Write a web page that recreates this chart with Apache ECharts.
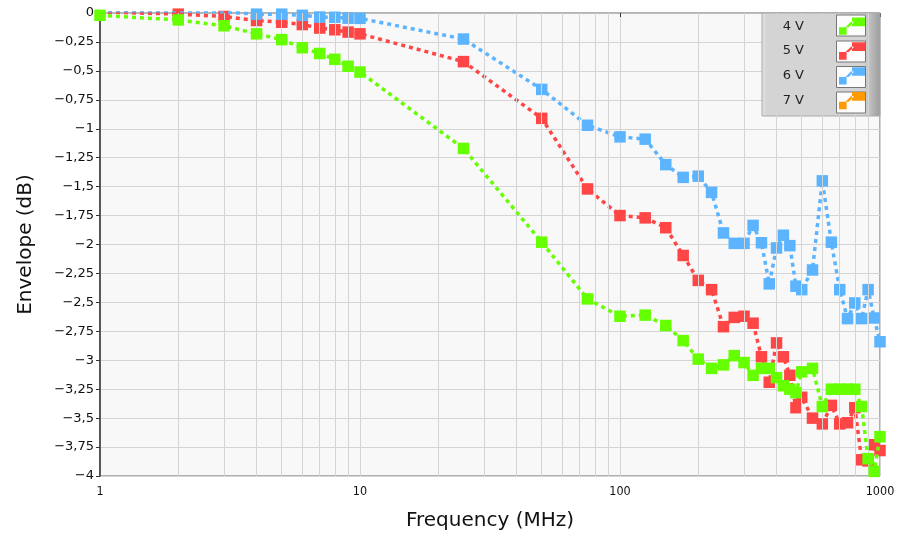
<!DOCTYPE html>
<html>
<head>
<meta charset="utf-8">
<script src="https://cdn.jsdelivr.net/npm/echarts@6/dist/echarts.min.js"></script>
<style>html,body{margin:0;padding:0;background:#fff}#c{width:900px;height:538px}</style>
</head>
<body>
<div id="c"></div>
<script>
const freqs = [1,2,3,4,5,6,7,8,9,10,25,50,75,100,125,150,175,200,225,250,275,300,325,350,375,400,425,450,475,500,550,600,650,700,750,800,850,900,950,1000];
const v4 = [-0.02,-0.06,-0.11,-0.18,-0.23,-0.30,-0.35,-0.40,-0.46,-0.51,-1.17,-1.98,-2.47,-2.62,-2.61,-2.70,-2.83,-2.99,-3.07,-3.04,-2.96,-3.02,-3.13,-3.07,-3.07,-3.15,-3.22,-3.25,-3.28,-3.10,-3.07,-3.40,-3.25,-3.25,-3.25,-3.25,-3.40,-3.85,-3.96,-3.66];
const v5 = [0.01,-0.01,-0.03,-0.065,-0.08,-0.10,-0.13,-0.145,-0.165,-0.18,-0.42,-0.91,-1.52,-1.75,-1.77,-1.855,-2.095,-2.31,-2.39,-2.71,-2.63,-2.62,-2.68,-2.97,-3.19,-2.85,-2.97,-3.13,-3.41,-3.32,-3.50,-3.55,-3.39,-3.55,-3.54,-3.41,-3.86,-3.87,-3.73,-3.78];
const v6 = [0.02,0.02,0.01,-0.01,-0.01,-0.02,-0.035,-0.037,-0.045,-0.046,-0.225,-0.66,-0.97,-1.07,-1.09,-1.31,-1.42,-1.41,-1.55,-1.90,-1.99,-1.99,-1.835,-1.985,-2.34,-2.03,-1.92,-2.01,-2.36,-2.39,-2.22,-1.45,-1.98,-2.39,-2.64,-2.505,-2.64,-2.39,-2.635,-2.84];
const v7 = [];
const seriesNames = ['4 V','5 V','6 V','7 V'];
const xTickLabels = {1: '1', 10: '10', 100: '100', 1000: '1000'};
const minorTicks = [2,3,4,5,6,7,8,9,20,30,40,50,60,70,80,90,200,300,400,500,600,700,800,900];

const colors = ['#66ff00','#ff4646','#5cb4ff','#ff9a00'];
const pairs = (ys) => ys.map((y, i) => [freqs[i], y]);
const fmtY = (v) => v === 0 ? '0' : '\u2212' + String(Math.abs(v)).replace('.', ',');
const fmtX = (v) => xTickLabels[Math.round(v)] || String(Math.round(v));
const iconPath = 'path://M0,9H7V16H0Z M6,9L9,9L14,4L11,4Z M12,0H24V8H12Z';

const chart = echarts.init(document.getElementById('c'), null, {renderer: 'canvas'});
const mk = (name, ys, color, z) => ({
  name: name, type: 'line', data: pairs(ys), z: z,
  symbol: 'rect', symbolSize: 11.5,
  itemStyle: {color: color},
  lineStyle: {color: color, width: 3.5, type: [4, 4]},
  clip: true
});
const boxY = [15, 41, 66.5, 92];
const graphics = [
  {type: 'rect', shape: {x: 762, y: 13, width: 118, height: 103}, style: {fill: new echarts.graphic.LinearGradient(0,0,1,0,[{offset:0,color:'#e2e2e2'},{offset:0.05,color:'#d4d4d4'},{offset:0.86,color:'#d4d4d4'},{offset:1,color:'#9a9a9a'}]), stroke: '#aaa', lineWidth: 1}, z: 5, silent: true}
].concat(boxY.map(y => ({type: 'rect', shape: {x: 836.5, y: y, width: 29, height: 21}, style: {fill: '#fcfcfc', stroke: '#777', lineWidth: 1}, z: 6, silent: true})));

chart.setOption({
  animation: false,
  backgroundColor: '#fff',
  grid: {left: 100, right: 20, top: 13, bottom: 62, show: true, backgroundColor: '#f8f8f8', borderColor: '#666', borderWidth: 1},
  xAxis: {
    type: 'log', logBase: 10, min: 1, max: 1000,
    name: 'Frequency (MHz)', nameLocation: 'middle', nameGap: 35,
    nameTextStyle: {fontFamily: 'DejaVu Sans', fontSize: 20, color: '#111'},
    axisLine: {show: true, lineStyle: {color: '#bbb'}},
    axisTick: {show: true, length: 4, lineStyle: {color: '#333'}},
    axisLabel: {fontFamily: 'DejaVu Sans Condensed, Liberation Sans Narrow, sans-serif', fontSize: 12.5, color: '#111', margin: 9, formatter: fmtX},
    splitLine: {show: true, lineStyle: {color: '#d4d4d4', width: 1}}
  },
  yAxis: {
    type: 'value', min: -4, max: 0, interval: 0.25,
    name: 'Envelope (dB)', nameLocation: 'middle', nameGap: 64,
    nameTextStyle: {fontFamily: 'DejaVu Sans', fontSize: 20, color: '#111'},
    axisLine: {show: true, lineStyle: {color: '#333', width: 1.5}},
    axisTick: {show: true, length: 4, lineStyle: {color: '#333'}},
    axisLabel: {fontFamily: 'DejaVu Sans', fontSize: 13, color: '#111', margin: 6, formatter: fmtY},
    splitLine: {show: true, lineStyle: {color: '#d4d4d4', width: 1}}
  },
  legend: {
    data: seriesNames, orient: 'vertical', right: 35, top: 17.5, padding: 0,
    align: 'right', itemWidth: 26, itemHeight: 18, itemGap: 7.5, z: 10,
    icon: iconPath,
    textStyle: {fontFamily: 'DejaVu Sans', fontSize: 13, color: '#222', padding: [0, 30, 0, 0]},
    selectedMode: false
  },
  graphic: graphics,
  series: [
    {name: 'minor', type: 'line', data: [], z: 1, silent: true,
     markLine: {silent: true, symbol: ['none','none'], label: {show: false},
       lineStyle: {color: '#d4d4d4', type: 'solid', width: 1},
       data: minorTicks.map(t => ({xAxis: t}))}},
    mk(seriesNames[0], v4, colors[0], 5),
    mk(seriesNames[1], v5, colors[1], 3),
    mk(seriesNames[2], v6, colors[2], 4),
    mk(seriesNames[3], v7, colors[3], 2)
  ]
});
</script>
</body>
</html>
